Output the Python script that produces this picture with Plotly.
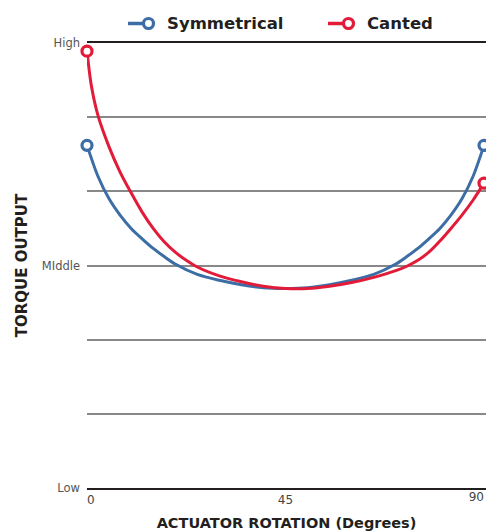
import plotly.graph_objects as go

# ---- data ----
series_names = ["Symmetrical", "Canted"]
series_colors = ["#3D6DA5", "#E11B38"]

sym_deg = [0, 2.5, 5, 7.5, 10, 12.5, 15, 17.5, 20, 25, 30, 35, 40, 45,
           50, 55, 60, 65, 70, 72.5, 75, 77.5, 80, 82.5, 85, 87.5, 90]
sym_val = [4.62, 4.20, 3.90, 3.68, 3.50, 3.36, 3.23, 3.12, 3.02, 2.88, 2.80, 2.74, 2.70, 2.69,
           2.70, 2.74, 2.80, 2.88, 3.02, 3.12, 3.23, 3.36, 3.50, 3.68, 3.90, 4.20, 4.62]

can_deg = [0, 1, 2.5, 5, 7.5, 10, 12.5, 15, 17.5, 20, 22.5, 25, 30, 35, 40, 45,
           50, 55, 60, 65, 70, 72.5, 75, 77.5, 80, 82.5, 85, 87.5, 90]
can_val = [5.89, 5.42, 5.02, 4.60, 4.26, 3.98, 3.72, 3.50, 3.32, 3.18, 3.07, 2.98, 2.86, 2.78, 2.72, 2.69,
           2.69, 2.72, 2.77, 2.84, 2.93, 2.99, 3.07, 3.18, 3.33, 3.50, 3.68, 3.88, 4.11]

x_ticks = [0, 45]
x_ticktext = ["\u00a0\u00a00", "45"]
x_end_tick = [90]
x_end_ticktext = ["90"]
y_ticks = [0, 1, 2, 3, 4, 5, 6]
y_ticktext = ["Low", "", "", "MIddle", "", "", "High"]

x_title = "ACTUATOR ROTATION (Degrees)"
y_title = "TORQUE OUTPUT"

W, H = 486, 531
L, R, T, B = 87, 0, 43, 43

fig = go.Figure()
for i, (name, col, xs, ys) in enumerate([(series_names[0], series_colors[0], sym_deg, sym_val),
                                         (series_names[1], series_colors[1], can_deg, can_val)]):
    fig.add_trace(go.Scatter(x=xs, y=ys, mode="lines", name=name,
                             line=dict(color=col, width=3, shape="spline", smoothing=0.8),
                             showlegend=False, cliponaxis=False, hoverinfo="skip"))
    fig.add_trace(go.Scatter(x=[xs[0], xs[-1]], y=[ys[0], ys[-1]], mode="markers",
                             marker=dict(symbol="circle", size=10, color="white",
                                         line=dict(color=col, width=3.2)),
                             xaxis="x2" if i == 1 else "x",
                             showlegend=False, cliponaxis=False, hoverinfo="skip"))

# custom legend (line + open circle at right end, bold label); pixel coords
plot_w = W - L - R
plot_h = H - T - B
def px_to_paper_x(px):
    return (px - L) / plot_w
def py_to_paper_y(py):
    return (H - B - py) / plot_h

legend_items = [(128, 148.5, 165), (328, 348.5, 365)]
ly = py_to_paper_y(23.5)
for (lx0, cx, tx), name, col in zip(legend_items, series_names, series_colors):
    fig.add_shape(type="line", xref="paper", yref="paper",
                  x0=px_to_paper_x(lx0), x1=px_to_paper_x(cx), y0=ly, y1=ly,
                  line=dict(color=col, width=3.5))
    fig.add_shape(type="circle", xref="paper", yref="paper",
                  xsizemode="pixel", ysizemode="pixel",
                  xanchor=px_to_paper_x(cx), yanchor=ly,
                  x0=-5, x1=5, y0=-5, y1=5,
                  fillcolor="white", line=dict(color=col, width=3.2))
    fig.add_annotation(text="<b>" + name + "</b>", xref="paper", yref="paper",
                       x=px_to_paper_x(tx), y=ly, xanchor="left", yanchor="middle",
                       showarrow=False, font=dict(size=16.5, color="#231F20",
                                                  family="DejaVu Sans"))

fig.update_layout(
    width=W, height=H,
    margin=dict(l=L, r=R, t=T, b=B, autoexpand=False),
    paper_bgcolor="white", plot_bgcolor="white",
    font=dict(family="DejaVu Sans", color="#444"),
    showlegend=False,
    xaxis2=dict(overlaying="x", matches="x", side="bottom", anchor="y",
                tickvals=x_end_tick, ticktext=x_end_ticktext,
                ticklabelposition="outside left", ticks="",
                showgrid=False, zeroline=False, showline=False,
                tickfont=dict(size=12, color="#444")),
)
fig.update_layout(xaxis=dict(range=[0, 90.45], tickvals=x_ticks, ticktext=x_ticktext,
                             showgrid=False, zeroline=False, showline=True, mirror=True,
                             linecolor="#231F20", linewidth=1.5, ticks="",
                             tickfont=dict(size=12, color="#444"),
                             title=dict(text="<b>" + x_title + "</b>", standoff=12,
                                        font=dict(size=14.5, color="#231F20"))))
fig.update_yaxes(range=[0, 6], tickvals=y_ticks, ticktext=y_ticktext,
                 showgrid=True, gridcolor="#888", gridwidth=1.5,
                 zeroline=False, showline=False, ticks="",
                 ticklabelstandoff=6,
                 tickfont=dict(size=11.5, color="#555"),
                 title=dict(text="<b>" + y_title + "</b>", standoff=10,
                            font=dict(size=15, color="#231F20")))

fig.write_html("out.html", config={"displayModeBar": False},
               post_script="document.body.style.margin='0';document.body.style.overflow='hidden';")
